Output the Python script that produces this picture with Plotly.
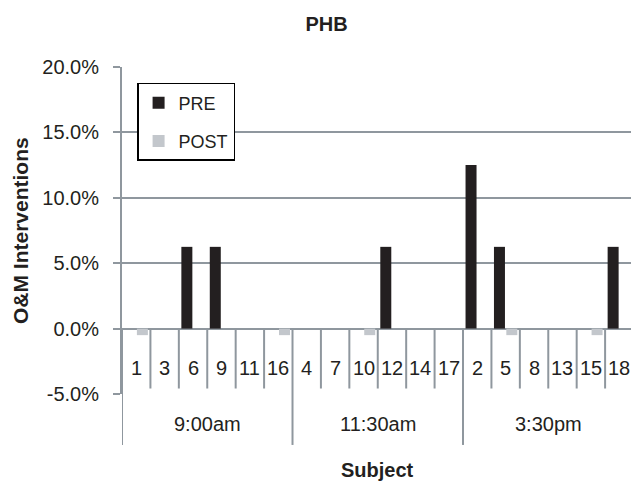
import plotly.graph_objects as go

# ---- data ----
subjects = ["1", "3", "6", "9", "11", "16",
            "4", "7", "10", "12", "14", "17",
            "2", "5", "8", "13", "15", "18"]
group_names = ["9:00am", "11:30am", "3:30pm"]
group_sizes = [6, 6, 6]
pre_values = [0, 0, 6.25, 6.25, 0, 0,
              0, 0, 0, 6.25, 0, 0,
              12.5, 6.25, 0, 0, 0, 6.25]
post_values = [-0.5, 0, 0, 0, 0, -0.5,
               0, 0, -0.5, 0, 0, 0,
               0, -0.5, 0, 0, -0.5, 0]
y_ticks = [-5, 0, 5, 10, 15, 20]
y_tick_labels = ["-5.0%", "0.0%", "5.0%", "10.0%", "15.0%", "20.0%"]

# ---- style / geometry (screen pixels) ----
W, H = 631, 483
PLOT_L, PLOT_R, PLOT_T, PLOT_B = 121.6, 631.0, 66.7, 394.0
CAT_W = 28.44  # pixel width of one category in the reference
ML = PLOT_L
MR = W - PLOT_R
MT = PLOT_T
MB = H - PLOT_B
FONT = "Liberation Sans, Arial, Helvetica, sans-serif"
TXT = "#231f20"
GRID = "#8f979e"
plot_h = PLOT_B - PLOT_T
plot_w = PLOT_R - PLOT_L

def py(px):  # screen row -> paper y
    return (PLOT_B - px) / plot_h

def pxx(px):  # screen column -> paper x
    return (px - PLOT_L) / plot_w

fig = go.Figure()
fig.add_trace(go.Bar(x=subjects, y=pre_values, name="PRE",
                     marker=dict(color="#231f20", line=dict(width=0)),
                     legendgroup="a"))
fig.add_trace(go.Bar(x=subjects, y=post_values, name="POST",
                     marker=dict(color="#c3c7cc", line=dict(width=0)),
                     legendgroup="b"))

shapes = []
annotations = []
n = len(subjects)
for i, s in enumerate(subjects):
    annotations.append(dict(x=i, y=-3.05, xref="x", yref="y", text=s,
                            showarrow=False, font=dict(size=20, color=TXT, family=FONT),
                            xanchor="center", yanchor="middle"))
group_bounds = [-0.5]
acc = -0.5
for g in group_sizes:
    acc += g
    group_bounds.append(acc)
for i in range(n + 1):
    b = i - 0.5
    if b in group_bounds:
        continue
    shapes.append(dict(type="line", xref="x", yref="y", x0=b, x1=b, y0=0, y1=-4.58,
                       line=dict(color=GRID, width=2)))
for b in group_bounds:
    shapes.append(dict(type="line", xref="x", yref="paper", x0=b, x1=b,
                       y0=py(328.3), y1=py(445),
                       line=dict(color=GRID, width=2)))
start = 0
for name, g in zip(group_names, group_sizes):
    center = start + (g - 1) / 2
    annotations.append(dict(x=center, y=py(424), xref="x", yref="paper", text=name,
                            showarrow=False, font=dict(size=20, color=TXT, family=FONT),
                            xanchor="center", yanchor="middle"))
    start += g

annotations.append(dict(x=pxx(377.5), y=py(470), xref="paper", yref="paper",
                        text="<b>Subject</b>", showarrow=False,
                        font=dict(size=20, color=TXT, family=FONT),
                        xanchor="center", yanchor="middle"))
annotations.append(dict(x=pxx(20), y=0.5, xref="paper", yref="paper",
                        text="<b>O&M Interventions</b>", textangle=-90, showarrow=False,
                        font=dict(size=21, color=TXT, family=FONT),
                        xanchor="center", yanchor="middle"))

fig.update_layout(
    width=W, height=H,
    margin=dict(l=ML, r=MR, t=MT, b=MB, pad=0, autoexpand=False),
    paper_bgcolor="white", plot_bgcolor="white",
    font=dict(family=FONT, color=TXT, size=20),
    title=dict(text="<b>PHB</b>", x=326.5 / W, y=1 - 24 / H,
               xref="container", yref="container", xanchor="center", yanchor="middle",
               font=dict(size=20, color=TXT, family=FONT)),
    barmode="group", bargap=0.13, bargroupgap=0.11,
    showlegend=True,
    legend=dict(x=pxx(136.7), y=py(82.7), xanchor="left", yanchor="top",
                bgcolor="white", bordercolor="black", borderwidth=1.5,
                font=dict(size=18, color=TXT, family=FONT),
                tracegroupgap=12, itemwidth=30, traceorder="grouped"),
    xaxis=dict(type="category", range=[-0.5, -0.5 + plot_w / CAT_W],
               showticklabels=False, showgrid=False, zeroline=False,
               showline=False, ticks="", fixedrange=True),
    yaxis=dict(range=[-5, 20], tickvals=y_ticks, ticktext=y_tick_labels,
               showgrid=True, gridcolor=GRID, gridwidth=2, zeroline=False,
               showline=True, linecolor=GRID, linewidth=2,
               ticks="outside", ticklen=7, tickcolor=GRID, tickwidth=2,
               ticklabelstandoff=10, automargin=False,
               tickfont=dict(size=20, color=TXT, family=FONT)),
    shapes=shapes, annotations=annotations,
)

fig.write_html("out.html",
               config={"displayModeBar": False, "staticPlot": True},
               post_script="document.body.style.margin='0';"
                           "document.body.style.overflow='hidden';")
